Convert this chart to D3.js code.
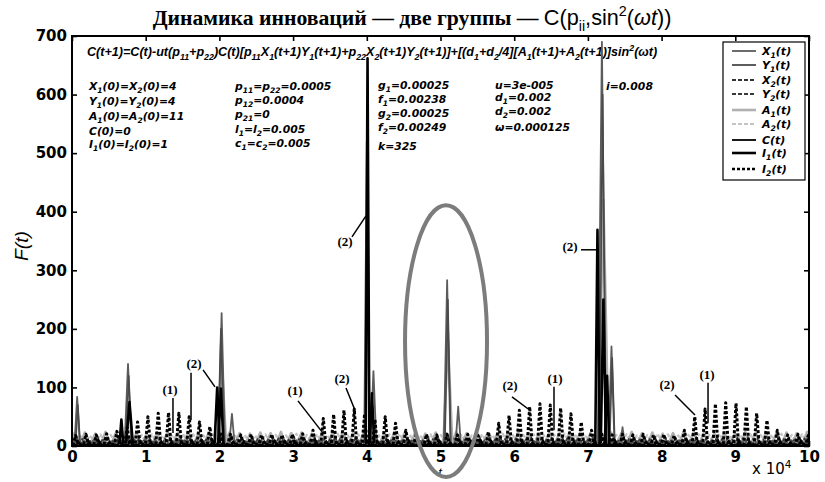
<!DOCTYPE html>
<html>
<head>
<meta charset="utf-8">
<script src="https://cdn.jsdelivr.net/npm/d3@7"></script>
<style>
  body { margin: 0; background: #fff; }
  svg { display: block; }
</style>
</head>
<body>
<svg id="chart" width="825" height="482"></svg>
<script>
// ---- axis ticks ----
const xTickValues = [0, 10000, 20000, 30000, 40000, 50000, 60000, 70000, 80000, 90000, 100000];
const xTickLabels = ["0", "1", "2", "3", "4", "5", "6", "7", "8", "9", "10"];
const yTickValues = [0, 100, 200, 300, 400, 500, 600, 700];

// ---- oscillating components: one peak value per cycle (cycle = 1400 steps) ----
const i2Peaks = [18, 20, 19, 21, 25, 32, 41, 50, 56, 57, 56, 50,
                 41, 33, 24, 20, 19, 20, 19, 20, 19, 20, 21, 27,
                 47, 54, 61, 63, 55, 45, 50, 39, 27, 21, 20, 19,
                 20, 19, 20, 18, 24, 39, 52, 61, 67, 72, 70, 65,
                 55, 41, 27, 20, 19, 20, 19, 20, 19, 20, 18, 27,
                 50, 63, 72, 74, 73, 67, 56, 44, 27, 19, 20, 18];
const a1Peaks = [22, 23, 21, 24, 22, 23, 22, 21, 23, 24, 22, 23,
                 21, 22, 24, 23, 22, 21, 23, 22, 24, 22, 23, 21,
                 22, 23, 24, 22, 21, 23, 22, 24, 23, 22, 21, 23,
                 22, 24, 22, 23, 21, 22, 23, 24, 22, 21, 23, 22,
                 24, 23, 22, 21, 23, 22, 24, 22, 23, 21, 22, 23,
                 24, 22, 21, 23, 22, 24, 23, 22, 21, 23, 22, 24];
const a2Peaks = [19, 18, 20, 19, 21, 18, 19, 20, 18, 19, 21, 20,
                 18, 19, 20, 21, 19, 18, 20, 19, 18, 21, 19, 20,
                 19, 21, 18, 20, 19, 18, 20, 21, 19, 18, 20, 19,
                 21, 19, 18, 20, 19, 21, 18, 19, 20, 18, 19, 21,
                 20, 18, 19, 21, 19, 20, 18, 19, 21, 20, 18, 19,
                 20, 19, 21, 18, 19, 20, 19, 18, 21, 19, 20, 18];
const x2Peaks = [14, 13, 15, 14, 16, 13, 14, 15, 13, 14, 16, 15,
                 13, 14, 15, 16, 14, 13, 15, 14, 13, 16, 14, 15,
                 14, 16, 13, 15, 14, 13, 15, 16, 14, 13, 15, 14,
                 16, 14, 13, 15, 14, 16, 13, 14, 15, 13, 14, 16,
                 15, 13, 14, 16, 14, 15, 13, 14, 16, 15, 13, 14,
                 15, 14, 16, 13, 14, 15, 14, 13, 16, 14, 15, 13];
const y2Peaks = [11, 12, 10, 13, 11, 12, 11, 10, 12, 13, 11, 12,
                 10, 11, 13, 12, 11, 10, 12, 11, 13, 11, 12, 10,
                 11, 12, 13, 11, 10, 12, 11, 13, 12, 11, 10, 12,
                 11, 13, 11, 12, 10, 11, 12, 13, 11, 10, 12, 11,
                 13, 12, 11, 10, 12, 11, 13, 11, 12, 10, 11, 12,
                 13, 11, 10, 12, 11, 13, 12, 11, 10, 12, 11, 13];
const x1Base  = [10, 9, 11, 10, 12, 9, 10, 11, 9, 10, 12, 11,
                 9, 10, 11, 12, 10, 9, 11, 10, 12, 10, 11, 9,
                 10, 11, 12, 10, 9, 11, 10, 12, 11, 10, 9, 11,
                 10, 12, 10, 11, 9, 10, 11, 12, 10, 9, 11, 10,
                 12, 11, 10, 9, 11, 10, 12, 10, 11, 9, 10, 11,
                 12, 10, 9, 11, 10, 12, 11, 10, 9, 11, 10, 12];
const y1Base  = [8, 9, 7, 8, 10, 8, 9, 8, 7, 9, 10, 8,
                 9, 8, 7, 10, 9, 8, 7, 9, 8, 10, 8, 9,
                 7, 8, 9, 10, 8, 7, 9, 8, 10, 9, 8, 7,
                 9, 8, 10, 7, 8, 9, 8, 10, 9, 7, 8, 9,
                 10, 8, 7, 9, 8, 10, 9, 8, 7, 9, 10, 8,
                 9, 7, 8, 10, 9, 8, 7, 9, 8, 10, 9, 8];
const cBase   = [7, 8, 9, 7, 8, 10, 8, 7, 9, 8, 7, 9,
                 8, 10, 7, 8, 9, 7, 8, 10, 9, 8, 7, 9,
                 8, 7, 10, 8, 9, 7, 8, 9, 10, 7, 8, 9,
                 7, 8, 9, 10, 8, 7, 9, 8, 7, 10, 8, 9,
                 8, 7, 9, 8, 10, 9, 7, 8, 9, 7, 8, 10,
                 9, 8, 7, 9, 10, 8, 7, 8, 9, 7, 10, 8];

// ---- isolated bursts: [time, peak value, half-duration] ----
const x1Bursts = [[700, 84, 350], [7600, 140, 450], [20300, 227, 450], [21700, 55, 350],
                  [40000, 520, 350], [40900, 128, 400], [50900, 283, 450], [52400, 67, 350],
                  [71900, 690, 550], [73200, 170, 400], [74700, 32, 300]];
const y1Bursts = [[800, 70, 300], [7700, 120, 400], [20200, 200, 400], [40100, 480, 300],
                  [51000, 250, 400], [72000, 600, 450], [73300, 150, 350]];
const a1Bursts = [[20300, 150, 600], [51000, 180, 600], [72100, 420, 700]];
const i1Bursts = [[6700, 45, 250], [7800, 75, 450], [19700, 100, 350], [20200, 98, 350],
                  [40100, 662, 250], [40700, 90, 300], [71300, 369, 300], [72100, 250, 350],
                  [72600, 120, 300]];

// ---- layout ----
const M = { left: 72, right: 809, top: 36, bottom: 446 };
const T_MAX = 100000;
const svg = d3.select("#chart");

const x = d3.scaleLinear().domain([0, T_MAX]).range([M.left, M.right]);
const y = d3.scaleLinear().domain([0, 700]).range([M.bottom, M.top]);

const SANS = "'Liberation Sans', Arial, sans-serif";
const SERIF = "'Liberation Serif', 'Times New Roman', serif";
const WIDE = "'DejaVu Sans', sans-serif";

// styles of each series
const styles = {
  X1: { stroke: "#5c5c5c", width: 1.8, dash: null },
  Y1: { stroke: "#4a4a4a", width: 1.6, dash: null },
  X2: { stroke: "#333333", width: 1.8, dash: "4,2" },
  Y2: { stroke: "#3a3a3a", width: 1.8, dash: "4,2" },
  A1: { stroke: "#b0b0b0", width: 2.6, dash: null },
  A2: { stroke: "#c4c4c4", width: 2.2, dash: "4,2" },
  C:  { stroke: "#000000", width: 1.8, dash: null },
  I1: { stroke: "#000000", width: 2.6, dash: null },
  I2: { stroke: "#000000", width: 3.0, dash: "3,2" }
};

// rich text helper: _x / _{..} subscripts, ^x / ^{..} superscripts
function rich(textSel, str, size) {
  const re = /([_^])(\{[^}]*\}|.)/g;
  const parts = [];
  let last = 0, m;
  while ((m = re.exec(str))) {
    if (m.index > last) parts.push({ t: str.slice(last, m.index), k: 0 });
    let s = m[2];
    if (s[0] === "{") s = s.slice(1, -1);
    parts.push({ t: s, k: m[1] === "_" ? 1 : -1 });
    last = re.lastIndex;
  }
  if (last < str.length) parts.push({ t: str.slice(last), k: 0 });
  let cur = 0;
  parts.forEach(p => {
    const target = p.k === 1 ? size * 0.3 : p.k === -1 ? -size * 0.42 : 0;
    textSel.append("tspan")
      .attr("dy", target - cur)
      .attr("font-size", p.k ? size * 0.7 : size)
      .text(p.t);
    cur = target;
  });
  return textSel;
}

// ---- title ----
const title = svg.append("text")
  .attr("x", 412).attr("y", 25)
  .attr("text-anchor", "middle");
function buildTitle(size) {
  title.selectAll("tspan").remove();
  title.append("tspan").attr("font-family", SERIF).attr("font-weight", "bold")
    .attr("font-size", size).text("Динамика инноваций — две группы — ");
  const parts = [["C(p", 0], ["ii", 1], [",sin", 0], ["2", -1], ["(", 0], ["ωt", 0], ["))", 0]];
  let cur = 0;
  parts.forEach(([s, k]) => {
    const target = k === 1 ? size * 0.28 : k === -1 ? -size * 0.4 : 0;
    const ts = title.append("tspan").attr("font-family", SANS)
      .attr("dy", target - cur).attr("font-size", k ? size * 0.66 : size).text(s);
    if (s === "ωt") ts.attr("font-style", "italic");
    cur = target;
  });
}
buildTitle(18);
buildTitle(18 * 519 / title.node().getComputedTextLength());

// ---- plot frame & axes (ticks pointing inward) ----
const clip = svg.append("defs").append("clipPath").attr("id", "plotClip");
clip.append("rect").attr("x", M.left).attr("y", M.top)
  .attr("width", M.right - M.left).attr("height", M.bottom - M.top);

function styleAxis(g, labels) {
  g.select(".domain").remove();
  g.selectAll(".tick line").attr("stroke", "#000").attr("stroke-width", 1.6);
  g.selectAll(".tick text")
    .attr("font-family", WIDE).attr("font-weight", "bold")
    .attr("font-size", 15).attr("fill", "#000");
  if (!labels) g.selectAll(".tick text").remove();
}

svg.append("g").attr("transform", `translate(0,${M.bottom})`)
  .call(d3.axisBottom(x).tickValues(xTickValues)
    .tickFormat((d, i) => xTickLabels[i]).tickSizeInner(-5).tickSizeOuter(0).tickPadding(5))
  .call(g => styleAxis(g, true));
svg.append("g").attr("transform", `translate(0,${M.top})`)
  .call(d3.axisTop(x).tickValues(xTickValues).tickSizeInner(-5).tickSizeOuter(0))
  .call(g => styleAxis(g, false));
svg.append("g").attr("transform", `translate(${M.left},0)`)
  .call(d3.axisLeft(y).tickValues(yTickValues).tickFormat(d3.format("d"))
    .tickSizeInner(-5).tickSizeOuter(0).tickPadding(5))
  .call(g => styleAxis(g, true));
svg.append("g").attr("transform", `translate(${M.right},0)`)
  .call(d3.axisRight(y).tickValues(yTickValues).tickSizeInner(-5).tickSizeOuter(0))
  .call(g => styleAxis(g, false));

// ---- equation and parameter block ----
const EQ = "C(t+1)=C(t)-ut(p_{11}+p_{22})C(t)[p_{11}X_1(t+1)Y_1(t+1)+p_{22}X_2(t+1)Y_2(t+1)]+[(d_1+d_2/4][A_1(t+1)+A_2(t+1)]sin^2(ωt)";
const eq = svg.append("text").attr("x", 87).attr("y", 56)
  .attr("font-family", SANS).attr("font-weight", "bold").attr("font-style", "italic");
rich(eq, EQ, 10);
{
  const s = 10 * 571 / eq.node().getComputedTextLength();
  eq.selectAll("tspan").remove();
  rich(eq, EQ, s);
}

const paramCols = [
  { x: 89,  rows: [[90, "X_1(0)=X_2(0)=4"], [105, "Y_1(0)=Y_2(0)=4"], [120, "A_1(0)=A_2(0)=11"], [135, "C(0)=0"], [148, "I_1(0)=I_2(0)=1"]] },
  { x: 235, rows: [[90, "p_{11}=p_{22}=0.0005"], [104, "p_{12}=0.0004"], [118, "p_{21}=0"], [133, "l_1=l_2=0.005"], [147, "c_1=c_2=0.005"]] },
  { x: 378, rows: [[89, "g_1=0.00025"], [103, "f_1=0.00238"], [117, "g_2=0.00025"], [131, "f_2=0.00249"], [150, "k=325"]] },
  { x: 495, rows: [[89, "u=3e-005"], [101, "d_1=0.002"], [115, "d_2=0.002"], [131, "ω=0.000125"]] },
  { x: 606, rows: [[90, "i=0.008"]] }
];
paramCols.forEach(col => col.rows.forEach(([yy, s]) => {
  const t = svg.append("text").attr("x", col.x).attr("y", yy)
    .attr("font-family", WIDE).attr("font-weight", "bold").attr("font-style", "italic");
  rich(t, s, 10.8);
}));

// ---- data ----
const plot = svg.append("g").attr("clip-path", "url(#plotClip)");
const line = d3.line().x(d => x(d[0])).y(d => y(d[1]));

function waveVertices(peaks, start, half, floor) {
  const pts = [[0, floor]];
  peaks.forEach((v, i) => {
    const t = start + i * 1400;
    pts.push([t - half, floor], [t, v], [t + half, floor]);
  });
  pts.push([T_MAX, floor]);
  return pts.sort((a, b) => a[0] - b[0]);
}
function burstVertices(b, floor) {
  return [[b[0] - b[2], floor], [b[0], b[1]], [b[0] + b[2], floor]];
}
function drawPath(pts, key) {
  const st = styles[key];
  plot.append("path").datum(pts)
    .attr("d", line).attr("fill", "none")
    .attr("stroke", st.stroke).attr("stroke-width", st.width)
    .attr("stroke-dasharray", st.dash)
    .attr("stroke-linejoin", "round");
}

const waves = [
  ["A2", a2Peaks, 1050, 560, 7],
  ["A1", a1Peaks, 350, 560, 5],
  ["Y2", y2Peaks, 0, 380, 2],
  ["X2", x2Peaks, 700, 380, 2],
  ["Y1", y1Base, 1050, 320, 3],
  ["X1", x1Base, 250, 320, 3],
  ["C",  cBase, 900, 280, 2],
  ["I2", i2Peaks, 500, 330, 3]
];
const bursts = [["A1", a1Bursts], ["X1", x1Bursts], ["Y1", y1Bursts], ["I1", i1Bursts]];

waves.slice(0, 6).forEach(([k, p, s, h, f]) => drawPath(waveVertices(p, s, h, f), k));
bursts.forEach(([k, list]) => list.forEach(b => drawPath(burstVertices(b, 5), k)));
waves.slice(6).forEach(([k, p, s, h, f]) => drawPath(waveVertices(p, s, h, f), k));

// ---- frame ----
svg.append("rect").attr("x", M.left).attr("y", M.top)
  .attr("width", M.right - M.left).attr("height", M.bottom - M.top)
  .attr("fill", "none").attr("stroke", "#000").attr("stroke-width", 2);

// ---- group markers (1)/(2) with leader lines ----
const notes = [
  { label: "(2)", at: [37040, 346], leads: [[[37990, 357], [39890, 393]]] },
  { label: "(2)", at: [36630, 112], leads: [[[37180, 99], [38400, 61]]] },
  { label: "(1)", at: [30260, 92],  leads: [[[30660, 77], [34060, 22]]] },
  { label: "(1)", at: [13300, 94],  leads: [[[13700, 82], [13700, 22]]] },
  { label: "(2)", at: [16550, 138], leads: [[[16150, 125], [16150, 44]], [[17780, 130], [19400, 101]]] },
  { label: "(2)", at: [59430, 100], leads: [[[59700, 84], [62140, 61]]] },
  { label: "(1)", at: [65540, 112], leads: [[[65400, 101], [65400, 27]]] },
  { label: "(2)", at: [67570, 338], leads: [[[69060, 335], [71100, 335]]] },
  { label: "(2)", at: [80730, 102], leads: [[[81820, 87], [84530, 53]]] },
  { label: "(1)", at: [86160, 119], leads: [[[86300, 108], [86300, 39]]] }
];
notes.forEach(n => {
  n.leads.forEach(l => svg.append("path").datum(l).attr("d", line)
    .attr("stroke", "#000").attr("stroke-width", 1.5).attr("fill", "none"));
  svg.append("text").attr("x", x(n.at[0])).attr("y", y(n.at[1]))
    .attr("text-anchor", "middle").attr("dominant-baseline", "middle")
    .attr("font-family", SERIF).attr("font-weight", "bold").attr("font-size", 13)
    .text(n.label);
});

// ---- legend ----
const legendItems = [
  ["X1", "X_1(t)", 51], ["Y1", "Y_1(t)", 65], ["X2", "X_2(t)", 80], ["Y2", "Y_2(t)", 94],
  ["A1", "A_1(t)", 110], ["A2", "A_2(t)", 124], ["C", "C(t)", 140], ["I1", "I_1(t)", 153], ["I2", "I_2(t)", 169]
];
svg.append("rect").attr("x", 723).attr("y", 42).attr("width", 82).attr("height", 138)
  .attr("fill", "#fff").attr("stroke", "#000").attr("stroke-width", 1.2);
legendItems.forEach(([k, s, yy]) => {
  const st = styles[k];
  svg.append("line").attr("x1", 732).attr("x2", 756).attr("y1", yy).attr("y2", yy)
    .attr("stroke", st.stroke).attr("stroke-width", Math.min(Math.max(st.width, 1.8), 2.6))
    .attr("stroke-dasharray", st.dash);
  const t = svg.append("text").attr("x", 762).attr("y", yy + 4)
    .attr("font-family", WIDE).attr("font-weight", "bold").attr("font-style", "italic");
  rich(t, s, 11);
});

// ---- axis titles ----
svg.append("text").attr("transform", "translate(28,246) rotate(-90)")
  .attr("text-anchor", "middle").attr("font-family", SANS).attr("font-style", "italic")
  .attr("font-size", 19).text("F(t)");
svg.append("text").attr("x", 440).attr("y", 477).attr("text-anchor", "middle")
  .attr("font-family", SANS).attr("font-style", "italic").attr("font-size", 13).text("t");
const xs = svg.append("text").attr("x", 752).attr("y", 474)
  .attr("font-family", WIDE).attr("font-size", 15);
rich(xs, "x 10^4", 15);

// ---- highlighted burst near t = 5·10^4 ----
svg.append("ellipse")
  .attr("cx", x(50750)).attr("cy", y(179))
  .attr("rx", x(50750 + 5563) - x(50750)).attr("ry", y(0) - y(232))
  .attr("fill", "none").attr("stroke", "#7c7c7c").attr("stroke-width", 4);
</script>
</body>
</html>
